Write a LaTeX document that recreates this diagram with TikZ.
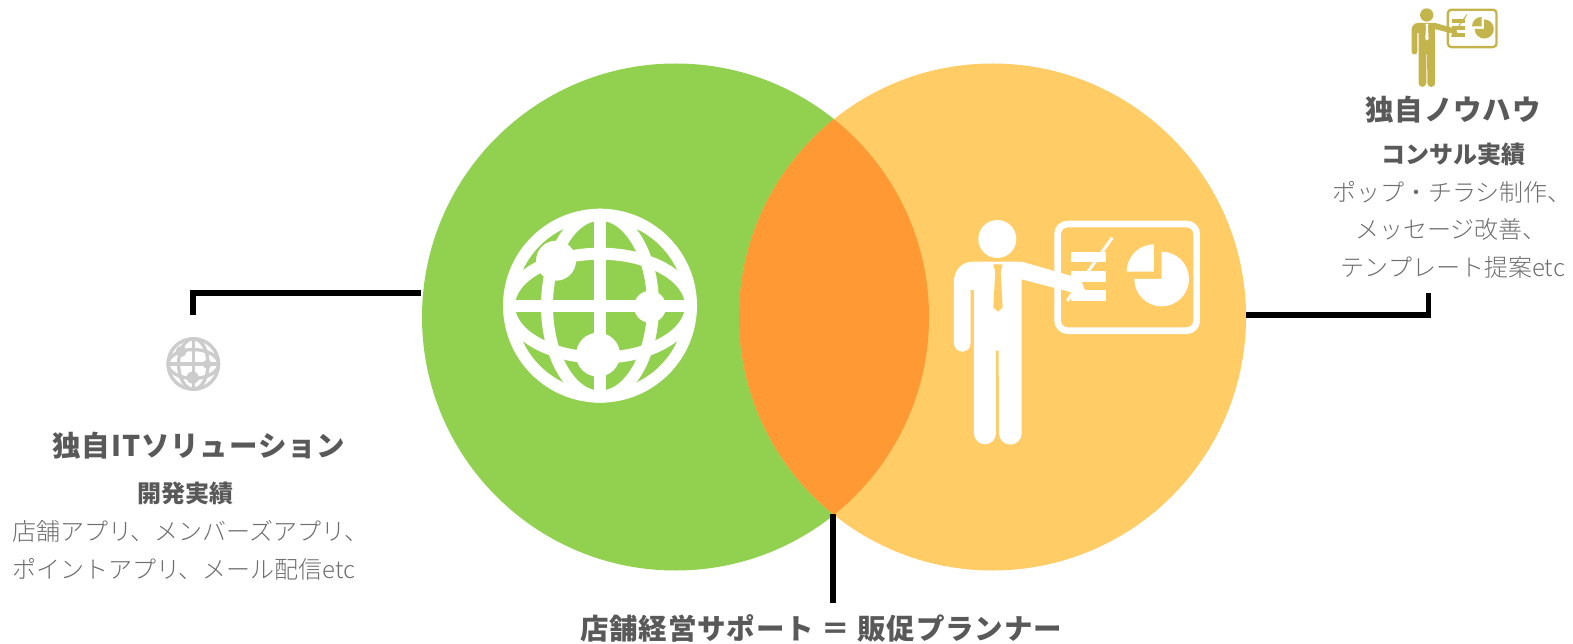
\documentclass[tikz,border=0pt]{standalone}
\usepackage{fontspec}
\setmainfont{Noto Sans CJK JP}
\newfontfamily\lightfont{Noto Sans CJK JP Light}
\usetikzlibrary{positioning}
\definecolor{leafgreen}{HTML}{92D050}
\definecolor{softorange}{HTML}{FFCC66}
\definecolor{deeporange}{HTML}{FF9933}
\definecolor{iconolive}{HTML}{C4B44C}
\definecolor{icongrey}{HTML}{CCCCCC}
\definecolor{headgrey}{HTML}{595959}
\definecolor{bodygrey}{HTML}{6E6E6E}
\tikzset{
  bigcircle/.style={circle,inner sep=0pt,minimum size=507pt},
  leader/.style={line width=5.5pt,black},
  headtext/.style={font=\fontsize{28.5}{28.5}\selectfont\bfseries\addfontfeatures{LetterSpace=3},text=headgrey,inner sep=0pt},
  subtext/.style={font=\fontsize{24}{24}\selectfont\bfseries,text=headgrey,inner sep=0pt},
  bodytext/.style={font=\fontsize{24}{24}\lightfont,text=bodygrey,inner sep=0pt},
}
% #1 x, #2 y, #3 scale, #4 colour
\newcommand{\globeicon}[4]{
  \begin{scope}[shift={(#1,#2)},scale=#3,draw=#4,fill=#4,line width=12pt*#3]
    \draw (0,0) circle [radius=91];
    \draw (0,-91) -- (0,91);
    \draw (-91,0) -- (91,0);
    \draw (0,0) ellipse [x radius=53,y radius=91];
    \draw (0,0) ellipse [x radius=91,y radius=52];
    \fill[draw=none] (-44,-45) circle [radius=20];
    \fill[draw=none] (50,1) circle [radius=16];
    \fill[draw=none] (-2,49) circle [radius=22];
  \end{scope}
}
% #1 x, #2 y, #3 scale, #4 colour, #5 tie colour
\newcommand{\presentericon}[5]{
  \begin{scope}[shift={(#1,#2)},scale=#3/3,shift={(-202,-117)},draw=#4,fill=#4]
    \fill[draw=none] (202,117) circle [radius=57];
    \fill[draw=none] (130,185) -- (270,185) -- (282,187) -- (425,228) -- (455,245) -- (465,270) -- (455,285)
      -- (275,238) -- (275,700) arc [start angle=0,end angle=180,radius=34] -- (206,452) -- (198,452)
      -- (198,700) arc [start angle=0,end angle=180,radius=33] -- (132,270) -- (122,270) -- (122,430)
      arc [start angle=0,end angle=180,radius=25] -- (72,245) .. controls (72,210) and (95,185) .. (130,185) -- cycle;
    \fill[#5,draw=none] (190,193) -- (218,193) -- (212,215) -- (218,322) -- (204,335) -- (190,322) -- (196,215) -- cycle;
    \draw[line width=6.7pt*#3,rounded corners=10pt*#3,fill=none] (383,72) rectangle (800,392);
    \fill[draw=none] (422,155) rectangle (527,187);
    \fill[draw=none] (422,213) rectangle (527,245);
    \fill[draw=none] (422,270) rectangle (527,302);
    \draw[line width=3pt*#3] (412,302) -- (547,113);
    \fill[draw=none] (695,237) -- (695,155) arc [start angle=-90,end angle=180,radius=82] -- cycle;
    \fill[draw=none] (672,215) -- (590,215) arc [start angle=180,end angle=270,radius=82] -- cycle;
  \end{scope}
}
\begin{document}
\begin{tikzpicture}[x=1pt,y=-1pt]
  \useasboundingbox (0,0) rectangle (1573,644);

  %––––– circles –––––
  \node (green) at (675.5,317) [bigcircle,fill=leafgreen] {};
  \node (orange) at (992.5,317) [bigcircle,fill=softorange] {};
  \begin{scope}
    \clip (675.5,317) circle [radius=253.5];
    \fill[deeporange] (992.5,317) circle [radius=253.5];
  \end{scope}

  %––––– icons –––––
  \globeicon{600}{305.7}{1}{white}
  \presentericon{997.3}{239}{1}{white}{softorange}
  \globeicon{193.3}{364}{.278}{icongrey}
  \presentericon{1426.7}{15}{.35}{iconolive}{white}

  %––––– left text –––––
  \node (t1) at (199,445.7) [headtext] {独自ITソリューション};
  \node (t2) at (185,493) [subtext] {開発実績};
  \node (t3) at (12,531.5) [bodytext,anchor=west] {店舗アプリ、メンバーズアプリ、};
  \node (t4) at (12,569) [bodytext,anchor=west] {ポイントアプリ、メール配信etc};

  %––––– right text –––––
  \node (r1) at (1453,110) [headtext] {独自ノウハウ};
  \node (r2) at (1453,154) [subtext] {コンサル実績};
  \node (r3) at (1452,192.7) [bodytext] {ポップ・チラシ制作、};
  \node (r4) at (1451,229) [bodytext] {メッセージ改善、};
  \node (r5) at (1453,267) [bodytext] {テンプレート提案etc};

  %––––– bottom text –––––
  \node (b1) at (821,628) [headtext] {店舗経営サポート ＝ 販促プランナー};

  %––––– leaders –––––
  \coordinate (la) at (420.7,293);
  \coordinate (lb) at (193,293);
  \coordinate (lc) at (193,315);
  \draw[leader] (la) -- (lb) -- (lc);
  \coordinate (ra) at (1246,315);
  \coordinate (rb) at (1428.5,315);
  \coordinate (rc) at (1428.5,293);
  \draw[leader] (ra) -- (rb) -- (rc);
  \coordinate (ba) at (833,514);
  \coordinate (bb) at (833,602.7);
  \draw[leader] (ba) -- (bb);
\end{tikzpicture}
\end{document}
